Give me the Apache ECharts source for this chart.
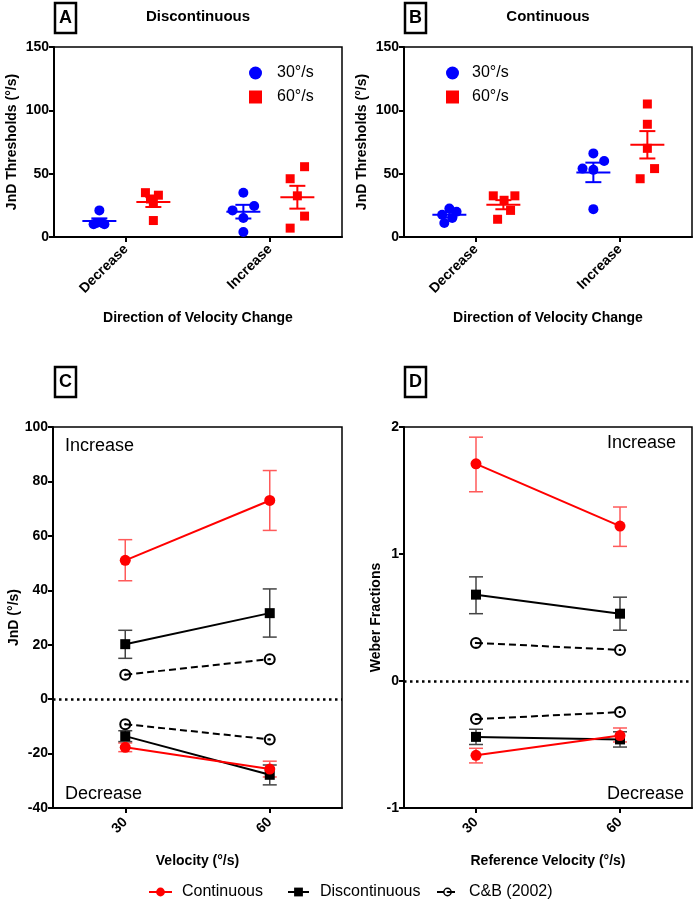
<!DOCTYPE html>
<html>
<head>
<meta charset="utf-8">
<script src="https://cdn.jsdelivr.net/npm/echarts@6/dist/echarts.min.js"></script>
<style>
  html, body { margin: 0; padding: 0; background: #fff; }
  #main { width: 697px; height: 901px; }
</style>
</head>
<body>
<div id="main"></div>
<script>
// ---- data ----
const dirCats = ['Decrease', 'Increase'];
const velCats = ['30', '60'];

// A: discontinuous, individual thresholds (°/s)
const discDec30 = [21, 10, 10, 11, 11];
const discInc30 = [35, 24.5, 21, 15, 4];
const discDec60 = [35, 33, 30, 27, 13];
const discInc60 = [55.5, 46, 32.5, 16.5, 7];
// B: continuous
const contDec30 = [22.5, 20, 17.5, 15, 11];
const contInc30 = [66, 60, 54, 53, 22];
const contDec60 = [32.5, 32.5, 29, 21, 14];
const contInc60 = [105, 89, 70, 54, 46];

// horizontal spread of the dots (axis units)
const jitDiscDec30 = [0, -0.04, 0.035, -0.02, 0.02];
const jitDiscInc30 = [0, 0.075, -0.075, 0, 0];
const jitDiscDec60 = [-0.055, 0.035, -0.02, 0, 0];
const jitDiscInc60 = [0.05, -0.05, 0, 0.05, -0.05];
const jitContDec30 = [0, 0.05, -0.05, 0.02, -0.035];
const jitContInc30 = [0, 0.075, -0.075, 0, 0];
const jitContDec60 = [-0.07, 0.08, 0.005, 0.05, -0.04];
const jitContInc60 = [0, 0, 0, 0.05, -0.05];

// mean and SEM per direction [Decrease, Increase]
const discMean30 = [12.6, 20];   const discSem30 = [2.1, 5.4];
const discMean60 = [27.6, 31.4]; const discSem60 = [3.9, 9];
const contMean30 = [17.5, 51];   const contSem30 = [2, 7.7];
const contMean60 = [25.5, 72.8]; const contSem60 = [3.6, 10.8];

// C: JnD (°/s) at 30 and 60 °/s
const contIncJnd = [51, 73];      const contIncJndLo = [43.5, 62];    const contIncJndHi = [58.6, 84];
const contDecJnd = [-17.7, -25.7]; const contDecJndLo = [-19.3, -28.6]; const contDecJndHi = [-16.1, -22.8];
const discIncJnd = [20.2, 31.6];  const discIncJndLo = [15, 22.8];    const discIncJndHi = [25.3, 40.5];
const discDecJnd = [-13.6, -27.8]; const discDecJndLo = [-15.6, -31.5]; const discDecJndHi = [-11.6, -24.2];
const cbIncJnd = [9, 14.7];
const cbDecJnd = [-9.2, -14.8];

// D: Weber fractions
const contIncWeb = [1.71, 1.22];    const contIncWebLo = [1.49, 1.06];   const contIncWebHi = [1.92, 1.37];
const contDecWeb = [-0.585, -0.43]; const contDecWebLo = [-0.645, -0.48]; const contDecWebHi = [-0.53, -0.37];
const discIncWeb = [0.68, 0.53];    const discIncWebLo = [0.53, 0.40];   const discIncWebHi = [0.82, 0.66];
const discDecWeb = [-0.44, -0.46];  const discDecWebLo = [-0.50, -0.52]; const discDecWebHi = [-0.38, -0.40];
const cbIncWeb = [0.30, 0.245];
const cbDecWeb = [-0.30, -0.245];

// ---- helpers ----
const FONT = '"Liberation Sans", Arial, sans-serif';
const RED = '#ff0000', BLUE = '#0000ff', BLACK = '#000000';
const OFF30 = -0.185, OFF60 = 0.19;
// open circle with a centre dot (GraphPad style)
const DOT_RING = 'path://M10,0 A10,10 0 1,1 10,20 A10,10 0 1,1 10,0 Z M10,3.4 A6.6,6.6 0 1,0 10,16.6 A6.6,6.6 0 1,0 10,3.4 Z M10,8 A2,2 0 1,1 10,12 A2,2 0 1,1 10,8 Z';

function dots(decVals, decJit, incVals, incJit, off) {
  const out = [];
  decVals.forEach((v, i) => out.push([0 + off + decJit[i], v]));
  incVals.forEach((v, i) => out.push([1 + off + incJit[i], v]));
  return out;
}
function meanRows(means, sems, off) {
  return means.map((m, i) => [i + off, m, sems[i]]);
}
function errRows(lo, hi) {
  return lo.map((l, i) => [i, l, hi[i]]);
}

function meanBarItem(params, api) {
  const x = api.value(0), m = api.value(1), s = api.value(2);
  const c = api.coord([x, m]);
  const hi = api.coord([x, m + s]);
  const lo = api.coord([x, m - s]);
  const st = { stroke: api.visual('color'), lineWidth: 2 };
  return {
    type: 'group', children: [
      { type: 'line', shape: { x1: c[0] - 17, y1: c[1], x2: c[0] + 17, y2: c[1] }, style: st },
      { type: 'line', shape: { x1: c[0], y1: hi[1], x2: c[0], y2: lo[1] }, style: st },
      { type: 'line', shape: { x1: c[0] - 8, y1: hi[1], x2: c[0] + 8, y2: hi[1] }, style: st },
      { type: 'line', shape: { x1: c[0] - 8, y1: lo[1], x2: c[0] + 8, y2: lo[1] }, style: st }
    ]
  };
}
function errBarItem(params, api) {
  const x = api.value(0);
  const lo = api.coord([x, api.value(1)]);
  const hi = api.coord([x, api.value(2)]);
  const st = { stroke: api.visual('color'), lineWidth: 1.5 };
  return {
    type: 'group', children: [
      { type: 'line', shape: { x1: hi[0], y1: hi[1], x2: lo[0], y2: lo[1] }, style: st },
      { type: 'line', shape: { x1: hi[0] - 7, y1: hi[1], x2: hi[0] + 7, y2: hi[1] }, style: st },
      { type: 'line', shape: { x1: lo[0] - 7, y1: lo[1], x2: lo[0] + 7, y2: lo[1] }, style: st }
    ]
  };
}

const labelBold = { color: BLACK, fontWeight: 'bold', fontSize: 14, fontFamily: FONT };
const nameBold = { color: BLACK, fontWeight: 'bold', fontSize: 14, fontFamily: FONT };
const axLine = { show: true, onZero: false, lineStyle: { color: BLACK, width: 2 } };
const axTick = { show: true, length: 5, lineStyle: { color: BLACK, width: 2 } };

function yAx(grid, min, max, interval, name, gap) {
  return {
    type: 'value', gridIndex: grid, min: min, max: max, interval: interval,
    axisLine: axLine, axisTick: axTick, splitLine: { show: false },
    axisLabel: Object.assign({ margin: 5 }, labelBold),
    name: name, nameLocation: 'middle', nameGap: gap, nameTextStyle: nameBold
  };
}
function xCat(grid, cats, name, gap, margin) {
  return {
    type: 'category', gridIndex: grid, data: cats, boundaryGap: true,
    axisLine: axLine, axisTick: Object.assign({ alignWithLabel: true }, axTick),
    axisLabel: Object.assign({ rotate: 45, margin: margin, interval: 0 }, labelBold),
    splitLine: { show: false },
    name: name, nameLocation: 'middle', nameGap: gap, nameTextStyle: nameBold
  };
}
function xHidden(grid) {
  return { type: 'value', gridIndex: grid, min: -0.5, max: 1.5, show: false,
    axisLine: { onZero: false }, splitLine: { show: false } };
}

function letterBox(x, y, ch) {
  return {
    type: 'group', x: x, y: y, children: [
      { type: 'rect', shape: { x: 0, y: 0, width: 21, height: 30 }, style: { fill: '#fff', stroke: BLACK, lineWidth: 2.5 } },
      { type: 'text', x: 10.5, y: 15.5, style: { text: ch, fill: BLACK, font: 'bold 18px ' + FONT, align: 'center', verticalAlign: 'middle' } }
    ]
  };
}
function note(x, y, txt) {
  return { type: 'text', x: x, y: y, style: { text: txt, fill: BLACK, font: '18px ' + FONT, align: 'left', verticalAlign: 'middle' } };
}
function head(x, y, txt) {
  return { type: 'text', x: x, y: y, style: { text: txt, fill: BLACK, font: 'bold 15px ' + FONT, align: 'center', verticalAlign: 'middle' } };
}

const zeroLine = {
  silent: true, symbol: ['none', 'none'], label: { show: false },
  lineStyle: { color: BLACK, width: 2.5, type: [2.5, 3.5] },
  data: [{ yAxis: 0 }]
};

function linePanel(xi, yi, d) {
  const base = { type: 'line', xAxisIndex: xi, yAxisIndex: yi, z: 3 };
  return [
    { type: 'custom', name: 'errRed', xAxisIndex: xi, yAxisIndex: yi, renderItem: errBarItem,
      itemStyle: { color: '#ff5a5a' }, data: errRows(d.cIncLo, d.cIncHi).concat(errRows(d.cDecLo, d.cDecHi)), z: 2 },
    { type: 'custom', name: 'errBlack', xAxisIndex: xi, yAxisIndex: yi, renderItem: errBarItem,
      itemStyle: { color: '#444' }, data: errRows(d.dIncLo, d.dIncHi).concat(errRows(d.dDecLo, d.dDecHi)), z: 2 },
    Object.assign({ name: 'C&B (2002)', data: d.bInc, symbol: DOT_RING, symbolSize: 12,
      itemStyle: { color: BLACK }, lineStyle: { color: BLACK, width: 2, type: [7, 4] }, markLine: zeroLine }, base),
    Object.assign({ name: 'C&B (2002)', data: d.bDec, symbol: DOT_RING, symbolSize: 12,
      itemStyle: { color: BLACK }, lineStyle: { color: BLACK, width: 2, type: [7, 4] } }, base),
    Object.assign({ name: 'Discontinuous', data: d.dInc, symbol: 'rect', symbolSize: 10,
      itemStyle: { color: BLACK }, lineStyle: { color: BLACK, width: 2 } }, base),
    Object.assign({ name: 'Discontinuous', data: d.dDec, symbol: 'rect', symbolSize: 10,
      itemStyle: { color: BLACK }, lineStyle: { color: BLACK, width: 2 } }, base),
    Object.assign({ name: 'Continuous', data: d.cInc, symbol: 'circle', symbolSize: 11,
      itemStyle: { color: RED }, lineStyle: { color: RED, width: 2 } }, base),
    Object.assign({ name: 'Continuous', data: d.cDec, symbol: 'circle', symbolSize: 11,
      itemStyle: { color: RED }, lineStyle: { color: RED, width: 2 } }, base)
  ];
}

function dotPanel(xi, yi, p) {
  return [
    { type: 'scatter', name: '30°/s', xAxisIndex: xi, yAxisIndex: yi, symbol: 'circle', symbolSize: 10,
      itemStyle: { color: BLUE, opacity: 1 }, data: dots(p.dec30, p.jDec30, p.inc30, p.jInc30, OFF30) },
    { type: 'scatter', name: '60°/s', xAxisIndex: xi, yAxisIndex: yi, symbol: 'rect', symbolSize: 9,
      itemStyle: { color: RED, opacity: 1 }, data: dots(p.dec60, p.jDec60, p.inc60, p.jInc60, OFF60) },
    { type: 'custom', xAxisIndex: xi, yAxisIndex: yi, renderItem: meanBarItem, itemStyle: { color: BLUE },
      data: meanRows(p.m30, p.s30, OFF30), z: 3 },
    { type: 'custom', xAxisIndex: xi, yAxisIndex: yi, renderItem: meanBarItem, itemStyle: { color: RED },
      data: meanRows(p.m60, p.s60, OFF60), z: 3 }
  ];
}

const legendText = { color: BLACK, fontSize: 16, fontFamily: FONT };

const option = {
  animation: false,
  backgroundColor: '#fff',
  grid: [
    { left: 54, top: 47, width: 288, height: 190, show: true, borderColor: BLACK, borderWidth: 1.5, outerBoundsMode: 'none' },
    { left: 404, top: 47, width: 288, height: 190, show: true, borderColor: BLACK, borderWidth: 1.5, outerBoundsMode: 'none' },
    { left: 53, top: 427, width: 289, height: 381, show: true, borderColor: BLACK, borderWidth: 1.5, outerBoundsMode: 'none' },
    { left: 404, top: 427, width: 288, height: 381, show: true, borderColor: BLACK, borderWidth: 1.5, outerBoundsMode: 'none' }
  ],
  xAxis: [
    xCat(0, dirCats, 'Direction of Velocity Change', 74, 10),
    xHidden(0),
    xCat(1, dirCats, 'Direction of Velocity Change', 74, 10),
    xHidden(1),
    xCat(2, velCats, 'Velocity (°/s)', 46, 12),
    xCat(3, velCats, 'Reference Velocity (°/s)', 46, 12)
  ],
  yAxis: [
    yAx(0, 0, 150, 50, 'JnD Thresholds (°/s)', 35),
    yAx(1, 0, 150, 50, 'JnD Thresholds (°/s)', 35),
    yAx(2, -40, 100, 20, 'JnD (°/s)', 32),
    yAx(3, -1, 2, 1, 'Weber Fractions', 20)
  ],
  legend: [
    { data: ['30°/s', '60°/s'], left: 244, top: 60, orient: 'vertical', itemWidth: 13, itemHeight: 13, itemGap: 8,
      textStyle: Object.assign({ padding: [0, 0, 0, 10] }, legendText) },
    { data: ['30°/s', '60°/s'], left: 441, top: 60, orient: 'vertical', itemWidth: 13, itemHeight: 13, itemGap: 8,
      textStyle: Object.assign({ padding: [0, 0, 0, 8] }, legendText) },
    { data: ['Continuous'], left: 143, top: 879, itemWidth: 23, itemHeight: 11, textStyle: Object.assign({ padding: [0, 0, 0, 5] }, legendText) },
    { data: ['Discontinuous'], left: 282, top: 879, itemWidth: 21, itemHeight: 11, textStyle: Object.assign({ padding: [0, 0, 0, 6] }, legendText) },
    { data: ['C&B (2002)'], left: 431, top: 879, itemWidth: 21, itemHeight: 11, textStyle: Object.assign({ padding: [0, 0, 0, 6] }, legendText) }
  ],
  graphic: [
    letterBox(55, 3, 'A'), letterBox(405, 3, 'B'), letterBox(55, 367, 'C'), letterBox(405, 367, 'D'),
    head(198, 17, 'Discontinuous'), head(548, 17, 'Continuous'),
    note(65, 446, 'Increase'), note(65, 794, 'Decrease'),
    note(607, 443, 'Increase'), note(607, 794, 'Decrease')
  ],
  series: [].concat(
    dotPanel(1, 0, { dec30: discDec30, jDec30: jitDiscDec30, inc30: discInc30, jInc30: jitDiscInc30,
      dec60: discDec60, jDec60: jitDiscDec60, inc60: discInc60, jInc60: jitDiscInc60,
      m30: discMean30, s30: discSem30, m60: discMean60, s60: discSem60 }),
    dotPanel(3, 1, { dec30: contDec30, jDec30: jitContDec30, inc30: contInc30, jInc30: jitContInc30,
      dec60: contDec60, jDec60: jitContDec60, inc60: contInc60, jInc60: jitContInc60,
      m30: contMean30, s30: contSem30, m60: contMean60, s60: contSem60 }),
    linePanel(4, 2, { cInc: contIncJnd, cIncLo: contIncJndLo, cIncHi: contIncJndHi,
      cDec: contDecJnd, cDecLo: contDecJndLo, cDecHi: contDecJndHi,
      dInc: discIncJnd, dIncLo: discIncJndLo, dIncHi: discIncJndHi,
      dDec: discDecJnd, dDecLo: discDecJndLo, dDecHi: discDecJndHi,
      bInc: cbIncJnd, bDec: cbDecJnd }),
    linePanel(5, 3, { cInc: contIncWeb, cIncLo: contIncWebLo, cIncHi: contIncWebHi,
      cDec: contDecWeb, cDecLo: contDecWebLo, cDecHi: contDecWebHi,
      dInc: discIncWeb, dIncLo: discIncWebLo, dIncHi: discIncWebHi,
      dDec: discDecWeb, dDecLo: discDecWebLo, dDecHi: discDecWebHi,
      bInc: cbIncWeb, bDec: cbDecWeb })
  )
};

const chart = echarts.init(document.getElementById('main'), null, { renderer: 'canvas' });
chart.setOption(option);
</script>
</body>
</html>
